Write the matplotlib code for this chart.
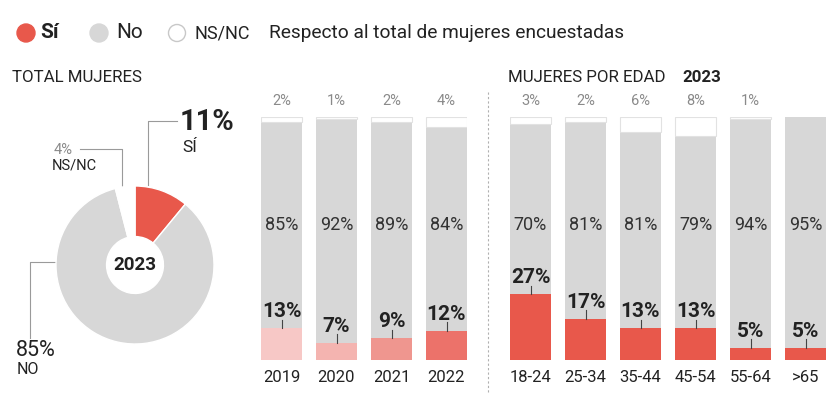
import matplotlib
matplotlib.use("Agg")
import matplotlib.pyplot as plt
from matplotlib.patches import Circle
from matplotlib.lines import Line2D

plt.rcParams['font.family'] = ['Roboto', 'DejaVu Sans']

# data
donut_labels = ['Sí', 'No', 'NS/NC']
donut_values = [11, 85, 4]

years = ['2019', '2020', '2021', '2022']
years_si = [13, 7, 9, 12]
years_no = [85, 92, 89, 84]
years_ns = [2, 1, 2, 4]

ages = ['18-24', '25-34', '35-44', '45-54', '55-64', '>65']
ages_si = [27, 17, 13, 13, 5, 5]
ages_no = [70, 81, 81, 79, 94, 95]
ages_ns = [3, 2, 6, 8, 1, 0]

RED = '#e8584b'
GREY = '#d7d7d7'
DARK = '#222222'
MID = '#8a8a8a'
year_reds = ['#f7c8c6', '#f4b4b0', '#ef968f', '#ec726a']

W, H = 840, 400
fig = plt.figure(figsize=(8.4, 4), dpi=100)

# overlay axes in pixel coords (y down)
ov = fig.add_axes([0, 0, 1, 1])
ov.set_xlim(0, W)
ov.set_ylim(H, 0)
ov.axis('off')

# legend row
ov.add_patch(Circle((26, 33), 9, color=RED))
ov.text(40, 33, 'Sí', fontsize=15, fontweight='bold', color=DARK, va='center')
ov.add_patch(Circle((99, 33), 9, color=GREY))
ov.text(116, 33, 'No', fontsize=15, color=DARK, va='center')
ov.add_patch(Circle((177, 33), 8.5, facecolor='white', edgecolor='#c8c8c8', lw=1))
ov.text(194, 33, 'NS/NC', fontsize=13, color=DARK, va='center')
ov.text(269, 33, 'Respecto al total de mujeres encuestadas', fontsize=13.8, color=DARK, va='center')

ov.text(12, 78, 'TOTAL MUJERES', fontsize=12.2, color=DARK, va='center')
ov.text(508, 78, 'MUJERES POR EDAD', fontsize=12.2, color=DARK, va='center')
ov.text(682, 78, '2023', fontsize=12.2, fontweight='bold', color=DARK, va='center')

# separator
ov.add_line(Line2D([488, 488], [92, 392], color='#b0b0b0', lw=0.8, ls=(0, (2, 2))))

# donut annotations
lc = '#9a9a9a'
ov.add_line(Line2D([148, 148, 177], [185, 121, 121], color=lc, lw=0.8))
ov.text(180, 122, f'{donut_values[0]}%', fontsize=21, fontweight='bold', color=DARK, va='center')
ov.text(182, 148, 'SÍ', fontsize=12.5, color=DARK, va='center')
ov.add_line(Line2D([122, 122, 80], [188, 149, 149], color=lc, lw=0.8))
ov.text(54, 150, f'{donut_values[2]}%', fontsize=10.5, color=MID, va='center')
ov.text(52, 165, 'NS/NC', fontsize=10.5, color=DARK, va='center')
ov.add_line(Line2D([57, 30, 30], [262, 262, 338], color=lc, lw=0.8))
ov.text(16, 351, f'{donut_values[1]}%', fontsize=15.5, color=DARK, va='center')
ov.text(17, 370, 'NO', fontsize=11.5, color=DARK, va='center')

# donut
cx, cy, r = 135, 265, 79
pax = fig.add_axes([(cx - r) / W, (H - cy - r) / H, 2 * r / W, 2 * r / H])
pax.pie(donut_values, colors=[RED, GREY, 'white'], startangle=90, counterclock=False,
        radius=1, wedgeprops=dict(width=0.64, edgecolor='white', linewidth=1))
pax.set_xlim(-1, 1)
pax.set_ylim(-1, 1)
pax.set_aspect('auto')
pax.text(0, 0, '2023', fontsize=13.5, fontweight='bold', color=DARK, ha='center', va='center')


def stacked(left_px, cats, si, no, ns, si_colors):
    n = len(cats)
    bw = 41 / 55
    xl = -bw / 2
    xr = n - 1 + bw / 2
    width_px = 55 * (n - 1) + 41
    ax = fig.add_axes([left_px / W, 40 / H, width_px / W, 243 / H])
    ax.set_xlim(xl, xr)
    ax.set_ylim(0, 100)
    ax.axis('off')
    xs = list(range(n))
    ax.bar(xs, si, width=bw, color=si_colors, lw=0)
    ax.bar(xs, no, width=bw, bottom=si, color=GREY, lw=0)
    tops = [a + b for a, b in zip(si, no)]
    for i in xs:
        if ns[i] > 0:
            ax.bar(i, ns[i], width=bw, bottom=tops[i], color='white',
                   edgecolor='#e2e2e2', lw=0.8)
            ax.text(i, 103.5, f'{ns[i]}%', fontsize=10.5, color=MID, ha='center', va='bottom')
        ax.text(i, 55.5, f'{no[i]}%', fontsize=13, color='#333333', ha='center', va='center')
        ax.plot([i, i], [si[i], si[i] + 3.5], color='#444444', lw=0.8)
        ax.text(i, si[i] + 6.8, f'{si[i]}%', fontsize=15, fontweight='bold', color=DARK,
                ha='center', va='center')
        ax.text(i, -7, cats[i], fontsize=12, color=DARK, ha='center', va='center')
    return ax


stacked(261, years, years_si, years_no, years_ns, year_reds)
stacked(510, ages, ages_si, ages_no, ages_ns, [RED] * len(ages))

fig.savefig('out.png', dpi=100)
